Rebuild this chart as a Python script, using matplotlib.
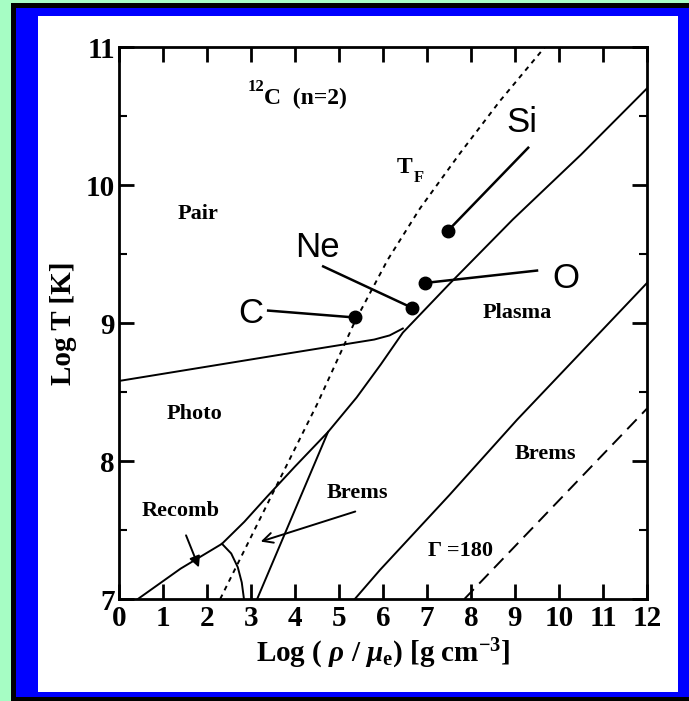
import matplotlib
matplotlib.use("Agg")
import matplotlib.pyplot as plt
from matplotlib.patches import Rectangle
from matplotlib.ticker import MultipleLocator

plt.rcParams['font.family'] = ['Liberation Serif', 'DejaVu Serif']
plt.rcParams['mathtext.fontset'] = 'custom'
plt.rcParams['mathtext.rm'] = 'Liberation Serif:bold'
plt.rcParams['mathtext.it'] = 'Liberation Serif:italic:bold'
plt.rcParams['mathtext.bf'] = 'Liberation Serif:bold'

# ---- data (log rho/mu_e, log T) ----
pair_x = [0.0, 3.66, 5.8, 6.15, 6.45]
pair_y = [8.58, 8.77, 8.88, 8.91, 8.96]

main_x = [0.43, 1.4, 2.34, 2.85, 3.36, 4.0, 4.75, 5.4, 5.95, 6.45, 7.5, 8.95, 10.5, 12.0]
main_y = [7.0, 7.22, 7.40, 7.56, 7.74, 7.96, 8.21, 8.46, 8.70, 8.93, 9.28, 9.75, 10.22, 10.70]

brems_tri_x = [3.14, 4.75]
brems_tri_y = [7.0, 8.21]

recomb_x = [2.34, 2.55, 2.7, 2.79, 2.84]
recomb_y = [7.40, 7.33, 7.23, 7.12, 7.0]

brems_low_x = [5.36, 5.93, 7.5, 9.05, 12.0]
brems_low_y = [7.0, 7.21, 7.75, 8.30, 9.29]

gamma_x = [7.85, 12.0]
gamma_y = [7.0, 8.38]

tf_x = [2.3, 3.39, 4.5, 5.36, 6.11, 6.84, 7.75, 8.66, 9.68]
tf_y = [7.0, 7.70, 8.41, 9.01, 9.46, 9.83, 10.23, 10.61, 11.0]

elements = ['C', 'Ne', 'O', 'Si']
elem_x = [5.36, 6.66, 6.95, 7.48]
elem_y = [9.04, 9.11, 9.29, 9.67]
elem_line_x = [3.39, 4.64, 9.5, 9.3]
elem_line_y = [9.09, 9.41, 9.38, 10.27]
elem_text_x = [3.0, 4.5, 10.15, 9.15]
elem_text_y = [9.07, 9.55, 9.32, 10.45]

xticks = list(range(0, 13))
yticks = [7, 8, 9, 10, 11]

W, H = 689, 701
fig = plt.figure(figsize=(W / 100, H / 100), dpi=100)
fig.patch.set_facecolor('#a6fdc4')

def frect(x0, y0, x1, y1, color):
    # pixel coords with top-left origin
    fig.add_artist(Rectangle((x0 / W, 1 - y1 / H), (x1 - x0) / W, (y1 - y0) / H,
                             transform=fig.transFigure, facecolor=color,
                             edgecolor='none', zorder=-10))

frect(11, 3, 689, 701, 'black')
frect(16, 8, 689, 697, '#0000ff')
frect(38, 16, 678, 692, 'white')

ax = fig.add_axes([119 / W, 1 - 599 / H, (647 - 119) / W, (599 - 47) / H])
ax.set_facecolor('none')
ax.set_xlim(0, 12)
ax.set_ylim(7, 11)

lw = 1.4
ax.plot(pair_x, pair_y, color='black', lw=lw)
ax.plot(main_x, main_y, color='black', lw=lw)
ax.plot(brems_tri_x, brems_tri_y, color='black', lw=lw)
ax.plot(recomb_x, recomb_y, color='black', lw=lw)
ax.plot(brems_low_x, brems_low_y, color='black', lw=lw)
ax.plot(gamma_x, gamma_y, color='black', lw=lw, dashes=(7, 4))
ax.plot(tf_x, tf_y, color='black', lw=lw, dashes=(2.5, 2.5))

for name, x, y, lx, ly, tx, ty in zip(elements, elem_x, elem_y, elem_line_x,
                                      elem_line_y, elem_text_x, elem_text_y):
    ax.plot([lx, x], [ly, y], color='black', lw=1.8)
    ax.plot([x], [y], marker='o', ms=9, color='black', mec='black')
    ax.text(tx, ty, name, fontsize=25, family='Liberation Sans',
            ha='center', va='center')

bold = dict(fontweight='bold', family='Liberation Serif')
ax.text(1.8, 9.79, 'Pair', fontsize=16, ha='center', va='center', **bold)
ax.text(1.72, 8.34, 'Photo', fontsize=16, ha='center', va='center', **bold)
ax.text(9.05, 9.07, 'Plasma', fontsize=16, ha='center', va='center', **bold)
ax.text(9.68, 8.05, 'Brems', fontsize=16, ha='center', va='center', **bold)
ax.text(5.41, 7.77, 'Brems', fontsize=16, ha='center', va='center', **bold)
ax.text(1.39, 7.64, 'Recomb', fontsize=16, ha='center', va='center', **bold)
ax.text(7.77, 7.35, '\u0393 =180', fontsize=16, ha='center', va='center', **bold)
ax.text(3.3, 10.63, 'C  (n=2)', fontsize=17, ha='left', va='center', **bold)
ax.text(3.3, 10.71, '12', fontsize=12, ha='right', va='center', **bold)
ax.text(6.3, 10.13, 'T', fontsize=17, ha='left', va='center', **bold)
ax.text(6.7, 10.05, 'F', fontsize=12, ha='left', va='center', **bold)

ax.annotate('', xy=(1.84, 7.21), xytext=(1.5, 7.48),
            arrowprops=dict(arrowstyle='-|>', color='black', lw=1.4,
                            mutation_scale=16))
ax.annotate('', xy=(3.16, 7.41), xytext=(5.43, 7.64),
            arrowprops=dict(arrowstyle='->', color='black', lw=1.4,
                            mutation_scale=18))

ax.set_xticks(xticks)
ax.set_yticks(yticks)
ax.yaxis.set_minor_locator(MultipleLocator(0.5))
ax.tick_params(which='major', direction='in', length=11, width=2,
               top=True, right=True, labelsize=21, pad=3)
ax.tick_params(which='minor', direction='in', length=6, width=1.5,
               left=True, right=True)
ax.tick_params(axis='x', pad=4)
for lab in ax.get_xticklabels() + ax.get_yticklabels():
    lab.set_fontweight('bold')
for s in ax.spines.values():
    s.set_linewidth(2)

ax.set_xlabel(r'Log ( $\rho$ / $\mu_{\rm e}$) [g cm$^{-3}$]', fontsize=21,
              fontweight='bold', labelpad=4)
ax.set_ylabel('Log T [K]', fontsize=21, fontweight='bold', labelpad=6)

fig.savefig('out.png', dpi=100, facecolor=fig.get_facecolor())
